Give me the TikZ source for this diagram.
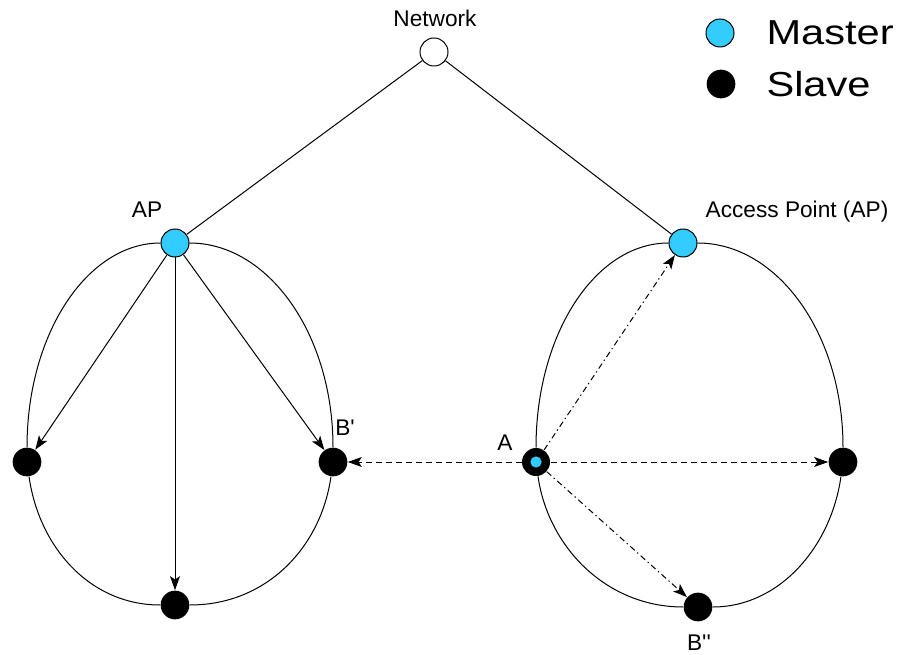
\documentclass[tikz,border=0pt]{standalone}
\usepackage{fontspec}
\setmainfont{Liberation Sans}
\usetikzlibrary{arrows.meta}
\definecolor{mastercyan}{RGB}{51,204,255}

\begin{document}
\begin{tikzpicture}[x=0.75pt,y=-0.75pt,
  line width=0.75pt,
  master/.style={circle,draw=black,fill=mastercyan,minimum size=21pt,inner sep=0pt},
  slave/.style={circle,fill=black,minimum size=21.5pt,inner sep=0pt},
  hub/.style={circle,draw=black,fill=white,minimum size=21pt,inner sep=0pt},
  roam/.style={circle,fill=black,minimum size=21pt,inner sep=0pt,
    path picture={\fill[mastercyan] (path picture bounding box.center) circle (4.2pt);}},
  lbl/.style={inner sep=0pt,anchor=base,font=\fontsize{17}{20}\selectfont},
  legendtxt/.style={inner sep=0pt,anchor=base west,font=\fontsize{26}{30}\selectfont},
  tip/.style={-{Stealth[length=10.5pt,width=7.5pt,inset=2.5pt]}},
  dashlink/.style={tip,dash pattern=on 4.5pt off 3pt},
  dotlink/.style={tip,dash pattern=on 4.5pt off 2.5pt on 1pt off 2.5pt},
]
\useasboundingbox (0,0) rectangle (902,655);

% network and access points
\node[hub]    (net) at (434,52)  {};
\node[master] (apL) at (175,243) {};
\node[master] (apR) at (683,243) {};

% left cell stations
\node[slave] (l1)  at (27,462)  {};
\node[slave] (bp)  at (333,462) {};
\node[slave] (l3)  at (175,605) {};

% right cell stations
\node[roam]  (a)   at (536,462) {};
\node[slave] (r1)  at (843,462) {};
\node[slave] (bpp) at (698,607) {};

% labels
\node[lbl] (tnet) at (435,27)  {Network};
\node[lbl] (tapL) at (147,218) {AP};
\node[lbl] (tapR) at (797,218) {Access Point (AP)};
\node[lbl] (ta)   at (505,450) {A};
\node[lbl] (tbp)  at (345,435) {B\textquotesingle};
\node[lbl] (tbpp) at (699,650) {B\textquotesingle\textquotesingle};

% legend
\node[master] (kM) at (720,33) {};
\node[slave]  (kS) at (721,84) {};
\node[legendtxt] (tM) at (766,45) {\scalebox{1.2}[1]{Master}};
\node[legendtxt] (tS) at (766,97) {\scalebox{1.2}[1]{Slave}};

% backbone
\draw (net) -- (apL);
\draw (net) -- (apR);

% left cell outline
\draw (apL) to[out=180,in=90,out distance=55pt,in distance=85pt] (l1);
\draw (apL) to[out=0,in=90,out distance=59pt,in distance=85pt] (bp);
\draw (l1)  to[out=-82,in=180,out distance=53pt,in distance=53pt] (l3);
\draw (bp)  to[out=-98,in=0,out distance=53pt,in distance=58pt] (l3);

% right cell outline
\draw (apR) to[out=180,in=90,out distance=55pt,in distance=85pt] (a);
\draw (apR) to[out=0,in=90,out distance=60pt,in distance=85pt] (r1);
\draw (a)   to[out=-82,in=180,out distance=53pt,in distance=58pt] (bpp);
\draw (r1)  to[out=-98,in=0,out distance=53pt,in distance=50pt] (bpp);

% polling from the left access point
\draw[tip] (apL) -- (l1);
\draw[tip] (apL) -- (l3);
\draw[tip] (apL) -- (bp);

% links from station A
\draw[dashlink] (a) -- (bp);
\draw[dashlink] (a) -- (r1);
\draw[dotlink]  (a) -- (apR);
\draw[dotlink]  (a) -- (bpp);
\end{tikzpicture}
\end{document}
